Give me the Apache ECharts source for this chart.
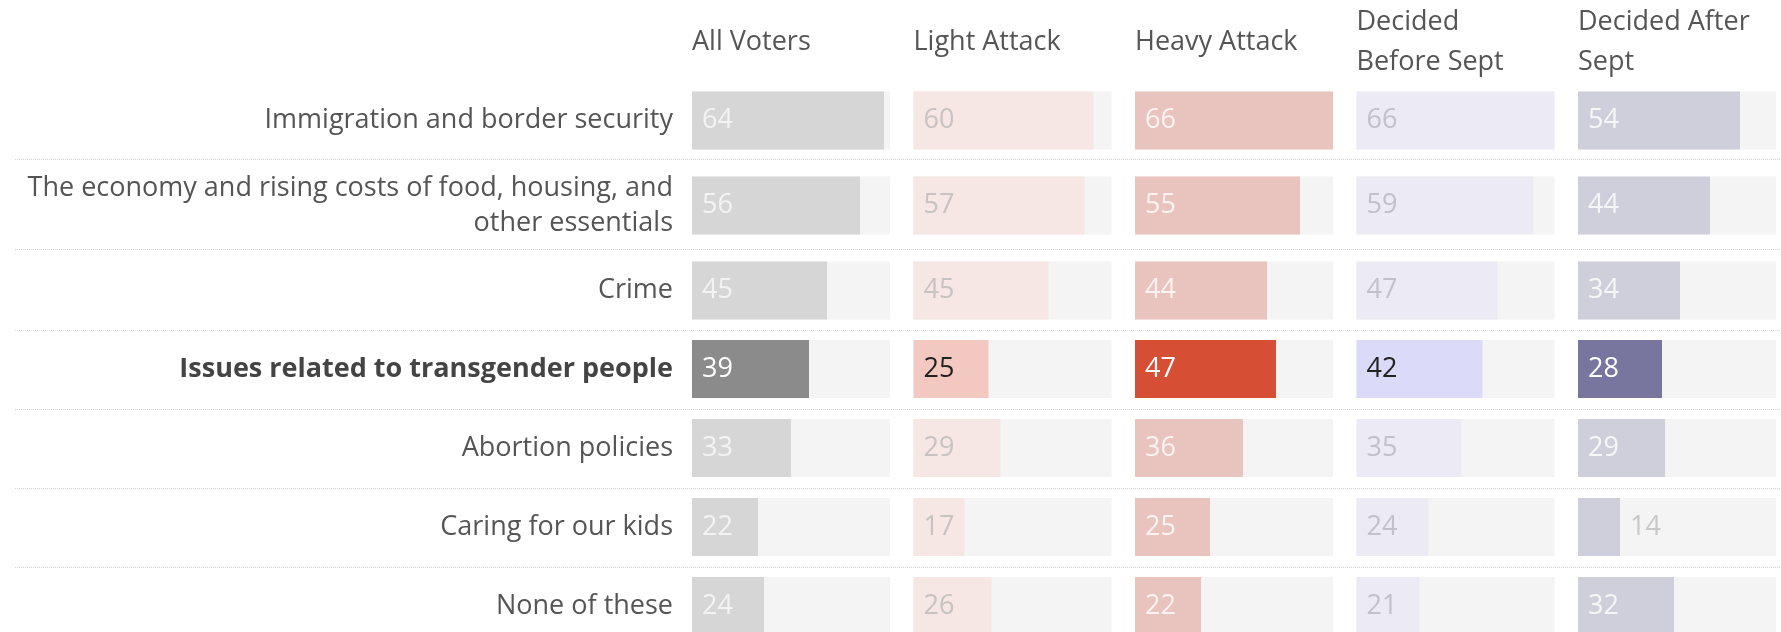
<!DOCTYPE html>
<html>
<head>
<meta charset="utf-8">
<script src="https://cdn.jsdelivr.net/npm/echarts@6/dist/echarts.min.js"></script>
<style>
html, body { margin: 0; padding: 0; background: #fff; }
#chart { width: 1781px; height: 632px; }
</style>
</head>
<body>
<div id="chart"></div>
<script>
var categories = [
  'Immigration and border security',
  'The economy and rising costs of food, housing, and\nother essentials',
  'Crime',
  'Issues related to transgender people',
  'Abortion policies',
  'Caring for our kids',
  'None of these'
];
var headers = ['All Voters', 'Light Attack', 'Heavy Attack', 'Decided\nBefore Sept', 'Decided After\nSept'];

var allVoters     = [64, 56, 45, 39, 33, 22, 24];
var lightAttack   = [60, 57, 45, 25, 29, 17, 26];
var heavyAttack   = [66, 55, 44, 47, 36, 25, 22];
var decidedBefore = [66, 59, 47, 42, 35, 24, 21];
var decidedAfter  = [54, 44, 34, 28, 29, 14, 32];

var columns = [allVoters, lightAttack, heavyAttack, decidedBefore, decidedAfter];
var highlightRow = 3;
var valueMax = 66;

// [faded bar, faded label, highlight bar, highlight label]
var palette = [
  ['#d6d6d6', '#f3f3f3', '#8b8b8b', '#ffffff'],
  ['#f6e6e4', '#c8c2c2', '#f3c8c1', '#222222'],
  ['#e9c3bd', '#fbf3f2', '#d64f35', '#ffffff'],
  ['#ecebf5', '#c2c1ca', '#dcdaf9', '#222222'],
  ['#cfcfdb', '#f6f6f8', '#78769f', '#ffffff']
];

var FONT = 'Open Sans';
var FS = 27;
var colLeft = 692, colStep = 221.5, colWidth = 198;
// rows 1-3 sit a little looser than rows 4-7 (the wrapped label);
// category centres run from the grid's top edge to its bottom edge
var blocks = [
  { from: 0, to: 3, top: 120.5, height: 170 },
  { from: 3, to: 7, top: 369, height: 237 }
];

var grids = [], xAxes = [], yAxes = [], series = [], titles = [];

columns.forEach(function (vals, c) {
  var pal = palette[c];
  var left = colLeft + c * colStep;
  var lines = headers[c].split('\n').length;
  titles.push({
    text: headers[c],
    left: left,
    top: 42 - lines * 20,
    padding: 0,
    textStyle: { fontFamily: FONT, fontSize: FS, fontWeight: 'normal', color: '#555', lineHeight: 40 }
  });

  blocks.forEach(function (b) {
    var gi = grids.length;
    grids.push({ left: left, width: colWidth, top: b.top, height: b.height });
    xAxes.push({ gridIndex: gi, type: 'value', min: 0, max: valueMax, show: false });
    yAxes.push({
      gridIndex: gi,
      type: 'category',
      inverse: true,
      boundaryGap: false,
      data: categories.slice(b.from, b.to),
      axisLine: { show: false },
      axisTick: { show: false },
      splitLine: { show: false },
      axisLabel: {
        show: c === 0,
        margin: 19,
        fontFamily: FONT,
        fontSize: FS,
        color: '#555',
        lineHeight: 35,
        formatter: function (v) {
          return v === categories[highlightRow] ? '{b|' + v + '}' : v;
        },
        rich: { b: { fontFamily: FONT, fontSize: FS, fontWeight: 'bold', color: '#444' } }
      }
    });
    series.push({
      type: 'bar',
      xAxisIndex: gi,
      yAxisIndex: gi,
      barWidth: 58,
      clip: false,
      silent: true,
      animation: false,
      showBackground: true,
      backgroundStyle: { color: '#f4f4f4' },
      label: { show: true, distance: 10, fontFamily: FONT, fontSize: FS },
      data: vals.slice(b.from, b.to).map(function (v, k) {
        var hi = (b.from + k) === highlightRow;
        var small = v < 16;
        return {
          value: v,
          itemStyle: { color: hi ? pal[2] : pal[0] },
          label: {
            position: small ? 'right' : 'insideLeft',
            color: small ? '#c8c8c8' : (hi ? pal[3] : pal[1])
          }
        };
      })
    });
  });
});

// dotted row separators across the whole width
[{ top: 159, height: 90, n: 1 }, { top: 330, height: 237, n: 3 }].forEach(function (s) {
  var gi = grids.length;
  grids.push({ left: 15, right: 0, top: s.top, height: s.height });
  xAxes.push({ gridIndex: gi, type: 'value', min: 0, max: 1, show: false });
  yAxes.push({
    gridIndex: gi,
    type: 'category',
    data: categories.slice(0, s.n),
    axisLine: { show: false },
    axisTick: { show: false },
    axisLabel: { show: false },
    splitLine: { show: true, lineStyle: { type: 'dotted', color: '#d4d4d4', width: 1 } }
  });
});

var chart = echarts.init(document.getElementById('chart'));
chart.setOption({
  backgroundColor: '#fff',
  animation: false,
  title: titles,
  grid: grids,
  xAxis: xAxes,
  yAxis: yAxes,
  series: series
});
</script>
</body>
</html>
